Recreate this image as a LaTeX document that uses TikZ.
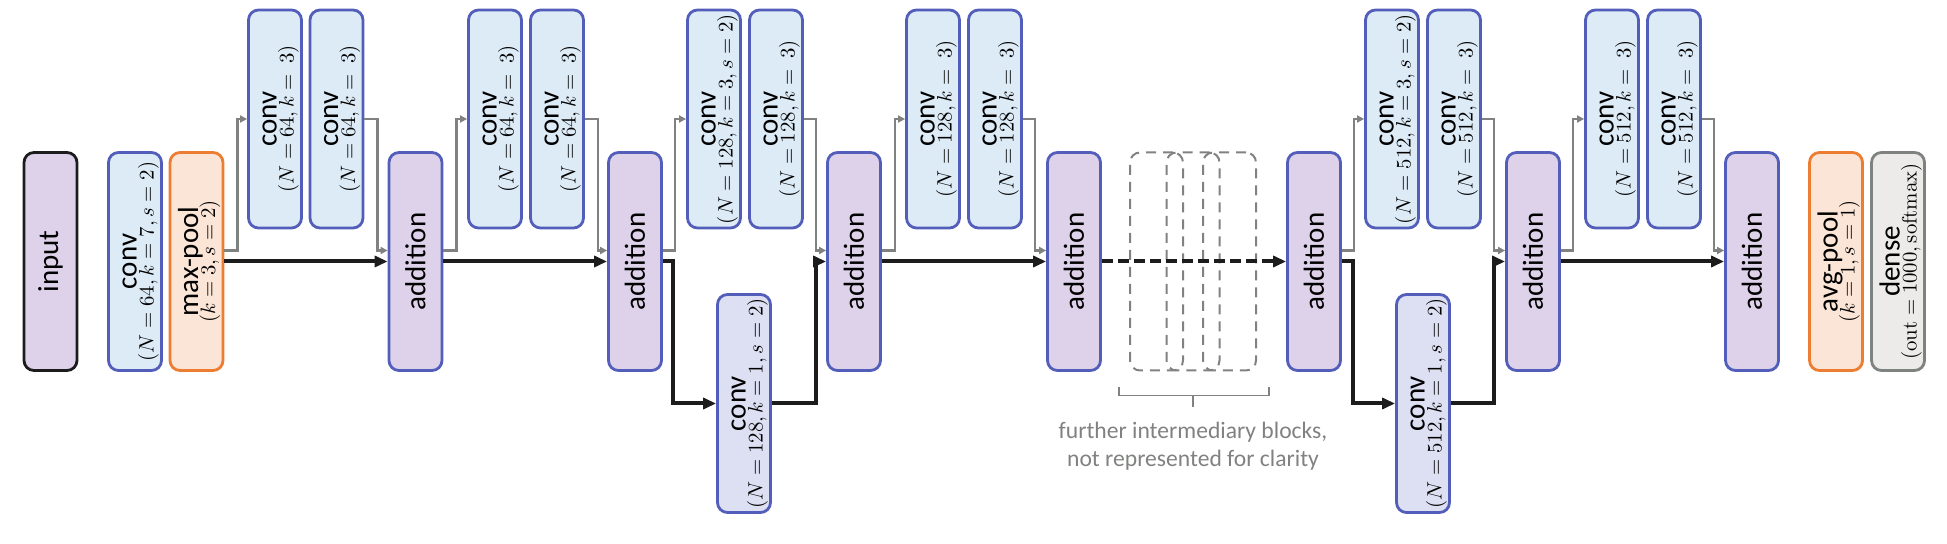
\RequirePackage{fix-cm}
\documentclass[tikz,border=0pt]{standalone}
\usepackage[no-math]{fontspec}
\setmainfont{Carlito}
\usetikzlibrary{arrows.meta}
\definecolor{bluebd}{RGB}{82,94,186}
\definecolor{bluefill}{RGB}{221,235,247}
\definecolor{lilac}{RGB}{221,210,234}
\definecolor{scfill}{RGB}{221,224,242}
\definecolor{orbd}{RGB}{237,125,49}
\definecolor{orfill}{RGB}{251,229,214}
\definecolor{grbd}{RGB}{127,131,127}
\definecolor{grfill}{RGB}{237,235,233}
\definecolor{arrgray}{RGB}{128,130,128}
\definecolor{blk}{RGB}{28,28,28}
\newcommand\sbf{\fontsize{10.4}{12}\selectfont}
\newcommand\lb[2]{\rotatebox{90}{\rule[-2.6pt]{0pt}{23.7pt}\makebox[0pt]{\raisebox{8.5pt}{#1}}\makebox[0pt]{\sbf#2}}}
\newcommand\lbo[1]{\rotatebox{90}{#1}}
\begin{document}
\begin{tikzpicture}[x=0.5pt,y=-0.5pt,
every node/.style={font=\fontsize{14.5}{17}\selectfont},
box/.style={draw,rounded corners=5pt,line width=1.4pt,minimum width=26.5pt,minimum height=109pt,inner sep=0pt},
inp/.style={box,draw=blk,fill=lilac},
cv/.style={box,draw=bluebd,fill=bluefill},
ad/.style={box,draw=bluebd,fill=lilac},
sc/.style={box,draw=bluebd,fill=scfill},
pl/.style={box,draw=orbd,fill=orfill},
dn/.style={box,draw=grbd,fill=grfill},
dsh/.style={box,draw=arrgray,line width=1pt,dash pattern=on 5pt off 3.5pt},
mn/.style={line width=2pt,draw=blk,-{Triangle[length=6.5pt,width=5.5pt]}},
br/.style={line width=1.3pt,draw=arrgray,-{Triangle[length=3.5pt,width=3.5pt]}},
captxt/.style={align=center,text=arrgray,inner sep=0pt,font=\fontsize{11.8}{14}\selectfont}]
\useasboundingbox(0,0)rectangle(1947,544);
% first stage
\node[inp](in) at(50.5,261.5){\lbo{input}};
\node[cv](c0) at(135,261.5){\lb{conv}{$(N=64,k=7,s=2)$}};
\node[pl](mp) at(196.5,261.5){\lb{max-pool}{$(k=3,s=2)$}};
% blocks with N=64
\node[cv](ca) at(275,119){\lb{conv}{$(N=64,k=\ 3)$}};
\node[cv](cb) at(336.5,119){\lb{conv}{$(N=64,k=\ 3)$}};
\node[ad](a1) at(415.5,261.5){\lbo{addition}};
\node[cv](cc) at(495,119){\lb{conv}{$(N=64,k=\ 3)$}};
\node[cv](cd) at(557,119){\lb{conv}{$(N=64,k=\ 3)$}};
\node[ad](a2) at(635,261.5){\lbo{addition}};
% blocks with N=128
\node[cv](ce) at(714,119){\lb{conv}{$(N=128,k=3,s=2)$}};
\node[cv](cf) at(776,119){\lb{conv}{$(N=128,k=\ 3)$}};
\node[sc](s1) at(744,403.5){\lb{conv}{$(N=128,k=1,s=2)$}};
\node[ad](a3) at(854,261.5){\lbo{addition}};
\node[cv](cg) at(933,119){\lb{conv}{$(N=128,k=\ 3)$}};
\node[cv](ch) at(995,119){\lb{conv}{$(N=128,k=\ 3)$}};
\node[ad](a4) at(1074,261.5){\lbo{addition}};
% left out blocks
\node[dsh](d1) at(1156.5,261.5){};
\node[dsh](d2) at(1193,261.5){};
\node[dsh](d3) at(1229.5,261.5){};
\draw[arrgray,line width=0.6pt]([xshift=-5pt,yshift=-8pt]d1.south west)--++(0,-4pt)-|([xshift=6pt,yshift=-8pt]d3.south east)
([yshift=-12pt]d2.south)--++(0,-6pt);
\node[captxt](nt) at(1193,446.5){further intermediary blocks,\\not represented for clarity};
% blocks with N=512
\node[ad](a5) at(1314,261.5){\lbo{addition}};
\node[cv](ci) at(1392,119){\lb{conv}{$(N=512,k=3,s=2)$}};
\node[cv](cj) at(1454,119){\lb{conv}{$(N=512,k=\ 3)$}};
\node[sc](s2) at(1423,403.5){\lb{conv}{$(N=512,k=1,s=2)$}};
\node[ad](a6) at(1533,261.5){\lbo{addition}};
\node[cv](ck) at(1612,119){\lb{conv}{$(N=512,k=\ 3)$}};
\node[cv](cl) at(1674,119){\lb{conv}{$(N=512,k=\ 3)$}};
\node[ad](a7) at(1752,261.5){\lbo{addition}};
% output
\node[pl](ap) at(1836,261.5){\lb{avg-pool}{$(k=1,s=1)$}};
\node[dn](de) at(1898,261.5){\lb{dense}{$(\mathrm{out}=1000,\mathrm{softmax})$}};
% residual branches
\draw[br]([yshift=5.5pt]mp.east)--++(6.5pt,0)|-(ca.west);
\draw[br](cb.east)--++(6.5pt,0)|-([yshift=5.5pt]a1.west);
\draw[br]([yshift=5.5pt]a1.east)--++(6.5pt,0)|-(cc.west);
\draw[br](cd.east)--++(6.5pt,0)|-([yshift=5.5pt]a2.west);
\draw[br]([yshift=5.5pt]a2.east)--++(6pt,0)|-(ce.west);
\draw[br](cf.east)--++(6pt,0)|-([yshift=5.5pt]a3.west);
\draw[br]([yshift=5.5pt]a3.east)--++(6.5pt,0)|-(cg.west);
\draw[br](ch.east)--++(6pt,0)|-([yshift=5.5pt]a4.west);
\draw[br]([yshift=5.5pt]a5.east)--++(6pt,0)|-(ci.west);
\draw[br](cj.east)--++(6pt,0)|-([yshift=5.5pt]a6.west);
\draw[br]([yshift=5.5pt]a6.east)--++(6pt,0)|-(ck.west);
\draw[br](cl.east)--++(6pt,0)|-([yshift=5.5pt]a7.west);
% identity and shortcut path
\draw[mn](mp.east)--(a1.west);
\draw[mn](a1.east)--(a2.west);
\draw[mn](a2.east)--++(5pt,0)|-(s1.west);
\draw[mn](s1.east)--++(22pt,0)|-(a3.west);
\draw[mn](a3.east)--(a4.west);
\draw[mn,dash pattern=on 5.5pt off 2.5pt](a4.east)--(a5.west);
\draw[mn](a5.east)--++(5.5pt,0)|-(s2.west);
\draw[mn](s2.east)--++(21.5pt,0)|-(a6.west);
\draw[mn](a6.east)--(a7.west);
\end{tikzpicture}
\end{document}
